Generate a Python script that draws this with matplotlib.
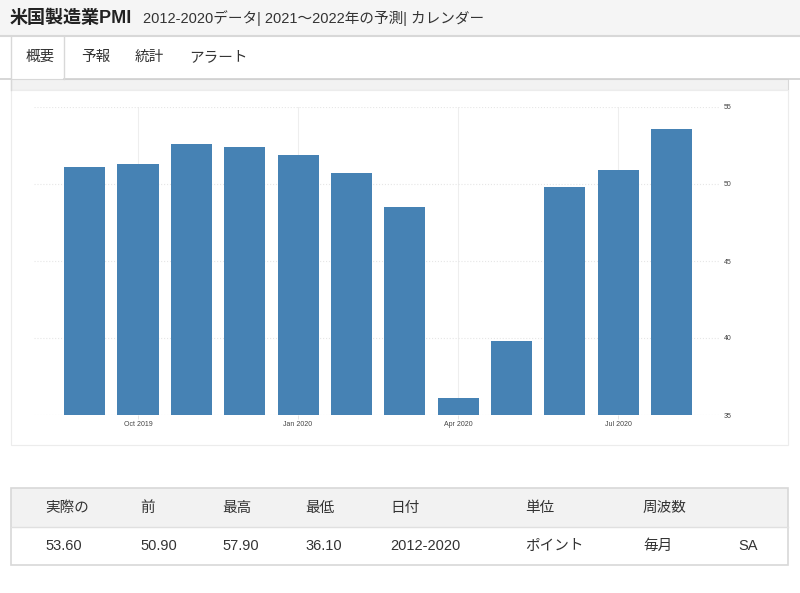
import matplotlib
matplotlib.use("Agg")
import matplotlib.pyplot as plt
from matplotlib.patches import Rectangle
from matplotlib.lines import Line2D

plt.rcParams["font.family"] = ["Liberation Sans", "Noto Sans CJK JP", "DejaVu Sans"]

# ── data ────────────────────────────────────────────────────────────────────
months = ["Sep 2019", "Oct 2019", "Nov 2019", "Dec 2019", "Jan 2020", "Feb 2020",
          "Mar 2020", "Apr 2020", "May 2020", "Jun 2020", "Jul 2020", "Aug 2020"]
pmi = [51.1, 51.3, 52.6, 52.4, 51.9, 50.7, 48.5, 36.1, 39.8, 49.8, 50.9, 53.6]
tick_months = ["Oct 2019", "Jan 2020", "Apr 2020", "Jul 2020"]
y_ticks = [35, 40, 45, 50, 55]

table_heads = ["実際の", "前", "最高", "最低", "日付", "単位", "周波数", ""]
table_vals = ["53.60", "50.90", "57.90", "36.10", "2012-2020", "ポイント", "毎月", "SA"]
tabs = ["概要", "予報", "統計", "アラート"]

# ── page geometry (pixels) ──────────────────────────────────────────────────
W, H = 800, 593
BAR = "#4682b4"
LINE = "#dddddd"
TXT = "#333333"

fig = plt.figure(figsize=(W / 100, H / 100), dpi=100)
fig.patch.set_facecolor("white")


def fx(x):
    return x / W


def fy(y):
    return 1 - y / H


def box(x0, y0, x1, y1, fc, ec=None, lw=1.0):
    fig.patches.append(Rectangle((fx(x0), fy(y1)), fx(x1) - fx(x0), fy(y0) - fy(y1),
                                 transform=fig.transFigure, facecolor=fc,
                                 edgecolor=ec if ec else "none", lw=lw, zorder=0))


def hline(x0, x1, y, color=LINE, lw=1.0):
    fig.lines.append(Line2D([fx(x0), fx(x1)], [fy(y), fy(y)], transform=fig.transFigure,
                            color=color, lw=lw))


def vline(x, y0, y1, color=LINE, lw=1.0):
    fig.lines.append(Line2D([fx(x), fx(x)], [fy(y0), fy(y1)], transform=fig.transFigure,
                            color=color, lw=lw))


# header
box(0, 0, W, 35, "#f5f5f5")
hline(0, W, 35.5, "#d8d8d8", 1.5)
fig.text(fx(10), fy(18), "米国製造業PMI", fontsize=13, fontweight="bold",
         color="#222222", va="center", ha="left")
fig.text(fx(143), fy(18), "2012-2020データ| 2021～2022年の予測| カレンダー",
         fontsize=10.5, color=TXT, va="center", ha="left")

# tabs
hline(0, 11, 78.5, "#d0d0d0", 1.2)
hline(64, W, 78.5, "#d0d0d0", 1.2)
vline(11, 37, 90, "#d8d8d8")
vline(64, 37, 79, "#d8d8d8")
tab_x = [40, 96, 149, 218]
for t, x in zip(tabs, tab_x):
    fig.text(fx(x), fy(57), t, fontsize=10.5, color=TXT, va="center", ha="center")

# chart panel
box(11, 79, 788, 90, "#f2f2f2", "#d8d8d8", 0.8)
box(11, 90, 788, 445, "white", "#ececec", 0.8)

# table
box(11, 488, 788, 527, "#f2f2f2")
box(11, 527, 788, 565, "white")
box(11, 488, 788, 565, "none", "#d8d8d8", 1.2)
hline(11, 788, 527, "#e0e0e0", 1.0)
col_x = [45, 140, 222, 305, 390, 525, 643, 738]
for h, v, x in zip(table_heads, table_vals, col_x):
    fig.text(fx(x), fy(508), h, fontsize=10.5, color=TXT, va="center", ha="left")
    fig.text(fx(x), fy(546), v, fontsize=10.5, color=TXT, va="center", ha="left")

# ── bar chart ───────────────────────────────────────────────────────────────
ax = fig.add_axes([fx(34), fy(415), fx(720) - fx(34), fy(107) - fy(415)])
ax.set_zorder(5)
ax.set_facecolor("none")
xs = range(len(months))
ax.bar(xs, [v - 35 for v in pmi], bottom=35, width=0.77, color=BAR, zorder=3)
ax.set_ylim(35, 55)
ax.set_xlim(-0.95, 11.91)
ax.set_yticks(y_ticks)
ax.set_yticklabels([str(t) for t in y_ticks])
ax.yaxis.tick_right()
ax.tick_params(axis="y", length=0, pad=3, labelsize=5, labelcolor="#444444")
ax.set_xticks([months.index(m) for m in tick_months])
ax.set_xticklabels(tick_months)
ax.tick_params(axis="x", length=3, width=0.6, color="#e0e0e0", pad=1,
               labelsize=5, labelcolor="#444444")
ax.grid(axis="y", color="#e6e6e6", lw=0.8, ls=":", zorder=0)
ax.grid(axis="x", color="#eeeeee", lw=0.8, zorder=0)
for s in ax.spines.values():
    s.set_visible(False)

fig.savefig("out.png", dpi=100)
